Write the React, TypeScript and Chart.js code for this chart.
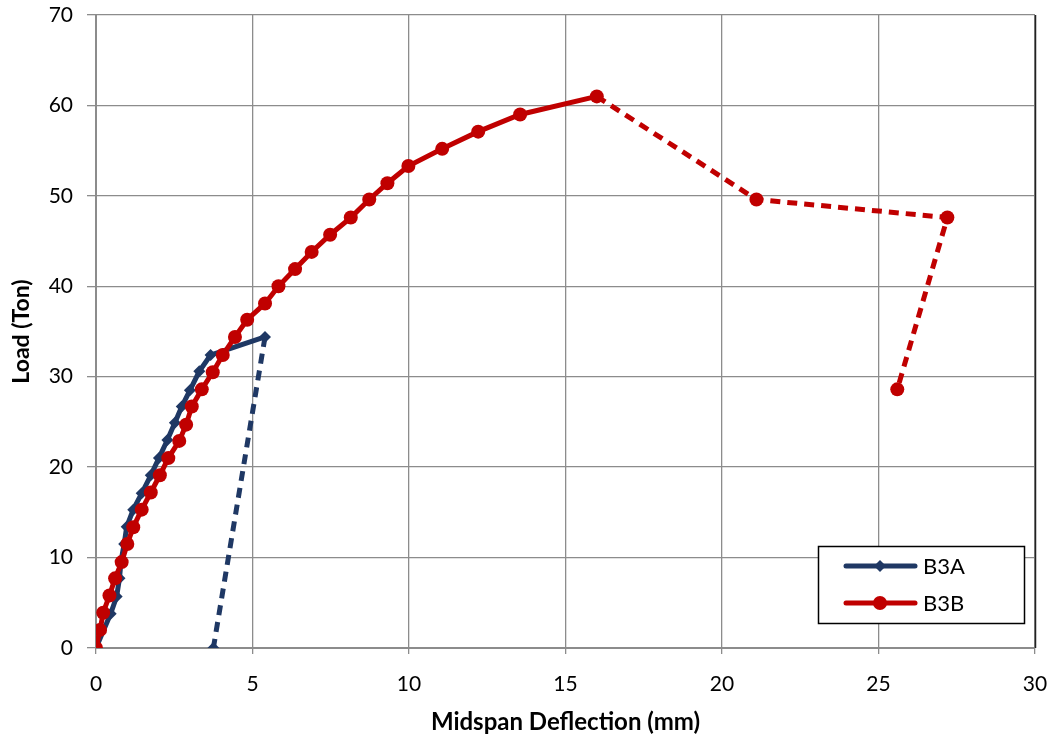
import React, { useEffect, useRef } from "react";
import { Chart, registerables } from "chart.js";

Chart.register(...registerables);

// B3A (blue) — deflection (mm) vs load (Ton)
const b3aDeflection = [0, 0.47, 0.66, 0.75, 0.8, 0.9, 0.98, 1.19, 1.46, 1.75, 2.01, 2.28, 2.52, 2.74, 3.0, 3.3, 3.66, 5.4, 3.75];
const b3aLoad = [0, 3.8, 5.7, 7.7, 9.6, 11.5, 13.4, 15.3, 17.1, 19.1, 21.0, 23.0, 24.9, 26.7, 28.5, 30.6, 32.4, 34.4, 0];
const b3aDashFrom = 17; // segment index where dashed part starts

// B3B (red)
const b3bDeflection = [0, 0.13, 0.23, 0.43, 0.61, 0.82, 1.0, 1.19, 1.46, 1.75, 2.04, 2.31, 2.66, 2.88, 3.06, 3.38, 3.73, 4.05, 4.44, 4.83, 5.4, 5.83, 6.36, 6.89, 7.48, 8.14, 8.73, 9.31, 9.98, 11.06, 12.21, 13.55, 16.0, 21.1, 27.2, 25.6];
const b3bLoad = [0, 2.0, 3.9, 5.8, 7.7, 9.5, 11.5, 13.35, 15.3, 17.2, 19.1, 21.0, 22.9, 24.7, 26.7, 28.6, 30.5, 32.4, 34.4, 36.3, 38.1, 40.0, 41.9, 43.8, 45.7, 47.6, 49.6, 51.4, 53.3, 55.2, 57.1, 59.0, 61.0, 49.6, 47.6, 28.6];
const b3bDashFrom = 32;

const seriesNames = ["B3A", "B3B"];
const seriesColors = ["#1F3864", "#C00000"];

const xTitle = "Midspan Deflection (mm)";
const yTitle = "Load (Ton)";

const FONT = "Lato, 'Open Sans', sans-serif";

const toPoints = (xs: number[], ys: number[]) => xs.map((x, i) => ({ x, y: ys[i] }));

const legendPlugin = {
  id: "customLegend",
  afterDraw(chart: any) {
    const { ctx, chartArea } = chart;
    ctx.save();
    ctx.strokeStyle = "#222";
    ctx.lineWidth = 1.5;
    ctx.beginPath();
    ctx.moveTo(chartArea.right + 0.5, chartArea.top);
    ctx.lineTo(chartArea.right + 0.5, chartArea.bottom);
    ctx.stroke();

    const bx = 818, by = 546, bw = 206, bh = 77;
    ctx.fillStyle = "#fff";
    ctx.fillRect(bx, by, bw, bh);
    ctx.strokeStyle = "#000";
    ctx.lineWidth = 1.5;
    ctx.strokeRect(bx + 0.5, by + 0.5, bw, bh);
    const rows = [566, 603];
    rows.forEach((yy, i) => {
      ctx.strokeStyle = seriesColors[i];
      ctx.fillStyle = seriesColors[i];
      ctx.lineWidth = 5;
      ctx.lineCap = "round";
      ctx.beginPath();
      ctx.moveTo(846, yy);
      ctx.lineTo(915, yy);
      ctx.stroke();
      ctx.beginPath();
      if (i === 0) {
        ctx.moveTo(880, yy - 6);
        ctx.lineTo(886, yy);
        ctx.lineTo(880, yy + 6);
        ctx.lineTo(874, yy);
        ctx.closePath();
      } else {
        ctx.arc(880, yy, 7, 0, Math.PI * 2);
      }
      ctx.fill();
      ctx.fillStyle = "#000";
      ctx.font = `22px ${FONT}`;
      ctx.textBaseline = "middle";
      ctx.textAlign = "left";
      ctx.fillText(seriesNames[i], 923, yy + 1);
    });
    ctx.restore();
  },
};

export default function App() {
  const ref = useRef<HTMLCanvasElement | null>(null);
  useEffect(() => {
    document.body.style.margin = "0";
    if (!ref.current) return;
    const dashed = (from: number) => (c: any) => (c.p0DataIndex >= from ? [10, 7] : undefined);
    const chart = new Chart(ref.current, {
      type: "line",
      data: {
        datasets: [
          {
            label: seriesNames[0],
            data: toPoints(b3aDeflection, b3aLoad),
            borderColor: seriesColors[0],
            backgroundColor: seriesColors[0],
            borderWidth: 5,
            pointStyle: "rectRot",
            pointRadius: 6,
            pointBorderWidth: 0,
            segment: { borderDash: dashed(b3aDashFrom) },
            tension: 0,
            order: 2,
          },
          {
            label: seriesNames[1],
            data: toPoints(b3bDeflection, b3bLoad),
            borderColor: seriesColors[1],
            backgroundColor: seriesColors[1],
            borderWidth: 5,
            pointStyle: "circle",
            pointRadius: 7,
            pointBorderWidth: 0,
            segment: { borderDash: dashed(b3bDashFrom) },
            tension: 0,
            order: 1,
          },
        ],
      },
      options: {
        animation: false,
        responsive: false,
        layout: { padding: { top: 15, right: 22, left: 0, bottom: 0 } },
        plugins: { legend: { display: false }, tooltip: { enabled: false } },
        scales: {
          x: {
            type: "linear",
            min: 0,
            max: 30,
            ticks: { stepSize: 5, color: "#000", font: { family: FONT, size: 21 }, padding: 18 },
            grid: { color: "#8c8c8c", lineWidth: 1.3, tickLength: 6 },
            border: { color: "#8c8c8c", width: 2 },
            title: {
              display: true,
              text: xTitle,
              color: "#000",
              font: { family: FONT, size: 24, weight: "bold" },
              padding: { top: 0, bottom: 5 },
            },
            afterFit: (s: any) => {
              s.height = 94;
              s.paddingLeft = 0;
              s.paddingRight = 0;
            },
          },
          y: {
            type: "linear",
            min: 0,
            max: 70,
            ticks: { stepSize: 10, color: "#000", font: { family: FONT, size: 21 }, padding: 14 },
            grid: { color: "#8c8c8c", lineWidth: 1.3, tickLength: 9 },
            border: { color: "#8c8c8c", width: 2 },
            title: {
              display: true,
              text: yTitle,
              color: "#000",
              font: { family: FONT, size: 23, weight: "bold" },
              padding: { top: 8, bottom: 0 },
            },
            afterFit: (s: any) => {
              s.width = 96;
              s.paddingTop = 0;
              s.paddingBottom = 0;
            },
          },
        },
      },
      plugins: [legendPlugin],
    });
    return () => chart.destroy();
  }, []);
  return (
    <div style={{ width: 1057, height: 742, background: "#fff" }}>
      <canvas ref={ref} width={1057} height={742} style={{ display: "block" }} />
    </div>
  );
}
